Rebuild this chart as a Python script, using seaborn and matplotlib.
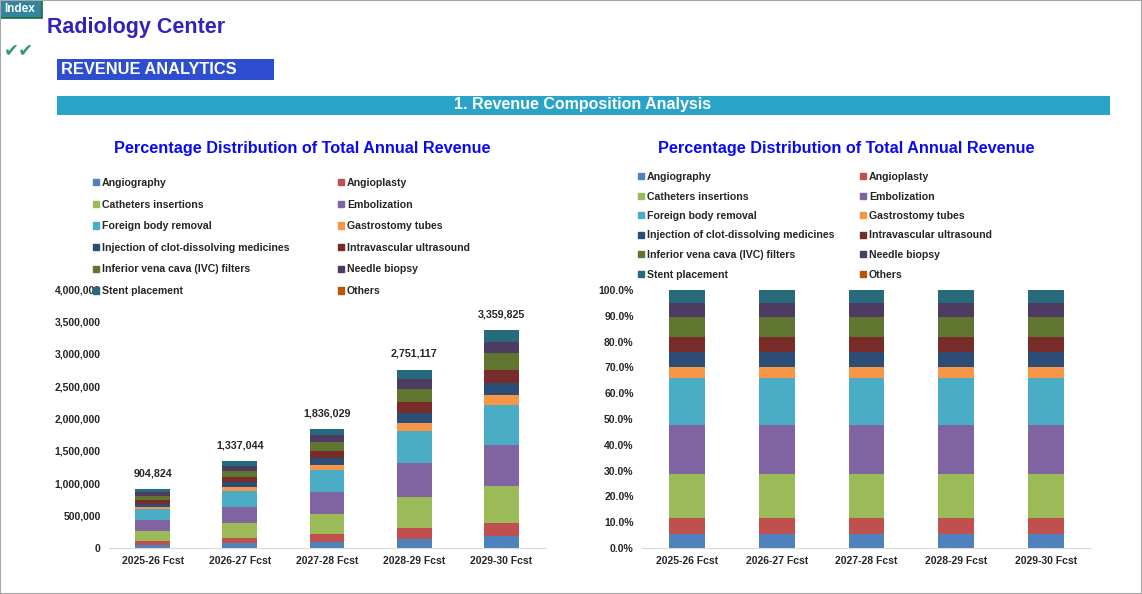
import numpy as np
import matplotlib
matplotlib.use("Agg")
import matplotlib.pyplot as plt
import matplotlib.patches as mpatches
from matplotlib.ticker import FuncFormatter
import seaborn as sns

sns.set_style("white")
plt.rcParams['font.family'] = ['Liberation Sans', 'DejaVu Sans']
plt.rcParams['font.weight'] = 'bold'

W, H = 1142, 594

years = ['2025-26 Fcst', '2026-27 Fcst', '2027-28 Fcst', '2028-29 Fcst', '2029-30 Fcst']

services = ['Angiography', 'Angioplasty', 'Catheters insertions', 'Embolization',
            'Foreign body removal', 'Gastrostomy tubes',
            'Injection of clot-dissolving medicines', 'Intravascular ultrasound',
            'Inferior vena cava (IVC) filters', 'Needle biopsy',
            'Stent placement', 'Others']

angiography = [47956, 70863, 97310, 145809, 178071]
angioplasty = [56099, 82897, 113834, 170569, 208309]
catheters = [154725, 228635, 313961, 470441, 574530]
embolization = [171012, 252701, 347010, 519961, 635007]
foreign_body = [165583, 244679, 335993, 503454, 614848]
gastrostomy = [38907, 57493, 78949, 118298, 144473]
injection = [52480, 77549, 106490, 159565, 194870]
intravascular = [53385, 78886, 108326, 162316, 198230]
ivc_filters = [69671, 102952, 141374, 211836, 258707]
needle_biopsy = [47956, 70863, 97310, 145809, 178071]
stent = [47050, 69526, 95472, 143059, 174709]
others = [0, 0, 0, 0, 0]

series = [angiography, angioplasty, catheters, embolization, foreign_body, gastrostomy,
          injection, intravascular, ivc_filters, needle_biopsy, stent, others]

colors = ['#4F81BD', '#C0504D', '#9BBB59', '#8064A2', '#4BACC6', '#F79646',
          '#2C4D75', '#772C2A', '#5F7530', '#4D3B62', '#276A7C', '#B65708']


def fx(px):
    return px / W


def fy(py):
    return 1 - py / H


fig = plt.figure(figsize=(W / 100, H / 100), dpi=100)

# page header
fig.patches.append(mpatches.Rectangle((fx(0), fy(18)), fx(42), 18 / H, transform=fig.transFigure,
                                      facecolor='#31859C', edgecolor='#1E6B3A', linewidth=1.2))
fig.text(fx(20), fy(9.5), 'Index', color='white', fontsize=8.5, ha='center', va='center')
fig.text(fx(47), fy(27), 'Radiology Center', color='#3322BB', fontsize=15.5, va='center')
fig.text(fx(4), fy(50), '\u2714\u2714', color='#2E9E6B', fontsize=13, va='center', family=['DejaVu Sans'])
fig.patches.append(mpatches.Rectangle((fx(57), fy(80)), fx(217), 21 / H, transform=fig.transFigure,
                                      facecolor='#2D4ED0', edgecolor='none'))
fig.text(fx(61), fy(70), 'REVENUE ANALYTICS', color='white', fontsize=11.8, va='center')
fig.patches.append(mpatches.Rectangle((fx(57), fy(115)), fx(1053), 19 / H, transform=fig.transFigure,
                                      facecolor='#2AA3C9', edgecolor='none'))
fig.text(fx(583), fy(105), '1. Revenue Composition Analysis', color='white', fontsize=11.5,
         ha='center', va='center')
fig.patches.append(mpatches.Rectangle((0, 0), 1, 1, transform=fig.transFigure,
                                      facecolor='none', edgecolor='#A6A6A6', linewidth=1.5))

totals = np.sum(series, axis=0)
shares = [np.array(s) / totals * 100 for s in series]


def stacked(ax, data):
    bottom = np.zeros(len(years))
    for vals, c in zip(data, colors):
        sns.barplot(x=years, y=vals, bottom=bottom, color=c, saturation=1, width=0.4,
                    errorbar=None, linewidth=0, ax=ax)
        bottom = bottom + np.array(vals)
    ax.set_xlim(-0.5, 4.5)
    sns.despine(ax=ax, left=True)
    ax.spines['bottom'].set_color('#D9D9D9')
    ax.tick_params(length=0, labelsize=7.5, pad=6)


def legend(x1, x2, y0, spacing):
    handles = [mpatches.Patch(color=c) for c in colors]
    for idx, x in ((0, x1), (1, x2)):
        fig.legend(handles[idx::2], services[idx::2], loc='upper left',
                   bbox_to_anchor=(fx(x), fy(y0)), frameon=False, fontsize=7.6,
                   handlelength=0.55, handleheight=0.55, handletextpad=0.3,
                   labelspacing=spacing, borderaxespad=0, borderpad=0)


# left chart: absolute revenue
ax1 = fig.add_axes([fx(109), fy(548), fx(436), 259 / H])
stacked(ax1, series)
ax1.set_ylim(0, 4000000)
ax1.set_yticks(np.arange(0, 4000001, 500000))
ax1.yaxis.set_major_formatter(FuncFormatter(lambda v, p: f'{v:,.0f}'))
for i, t in enumerate(totals):
    ax1.annotate(f'{t:,.0f}', (i, t), xytext=(0, 8), textcoords='offset points',
                 ha='center', va='bottom', fontsize=7.7)
fig.text(fx(302), fy(149), 'Percentage Distribution of Total Annual Revenue', color='#0A0AF0',
         fontsize=11.7, ha='center', va='center')
legend(93, 338, 178, 1.1)

# right chart: percentage share
ax2 = fig.add_axes([fx(642), fy(548), fx(449), 258 / H])
stacked(ax2, shares)
ax2.set_ylim(0, 100)
ax2.set_yticks(np.arange(0, 101, 10))
ax2.yaxis.set_major_formatter(FuncFormatter(lambda v, p: f'{v:.1f}%'))
fig.text(fx(846), fy(149), 'Percentage Distribution of Total Annual Revenue', color='#0A0AF0',
         fontsize=11.7, ha='center', va='center')
legend(638, 860, 172, 0.9)

fig.savefig('out.png', dpi=100)
